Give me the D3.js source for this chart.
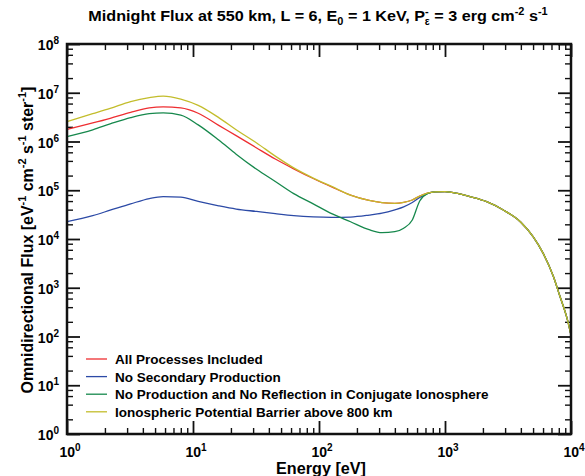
<!DOCTYPE html>
<html lang="en">
<head>
<meta charset="UTF-8">
<title>Midnight Flux at 550 km</title>
<script src="https://d3js.org/d3.v7.min.js"></script>
<style>
    body { margin: 0; background: #fff; }
    svg { font-family: "Liberation Sans", Arial, sans-serif; font-weight: bold; }
</style>
</head>
<body>
<div id="chart"></div>
<script>
// energies [eV] shared by all curves
const energy = [1, 1.6, 2.2, 3.2, 4.5, 5.8, 8, 11, 16, 22, 32, 45, 63, 90, 126, 178, 250, 316, 400, 470,
    550, 630, 725, 830, 1000, 1260, 1580, 2140, 2880, 3980, 5000, 6000, 7250, 8130, 9330, 10000];

// omnidirectional flux [eV-1 cm-2 s-1 ster-1]
const fluxAll = [1.78e6, 2.40e6, 2.99e6, 3.98e6, 4.90e6, 5.13e6, 4.90e6, 3.80e6, 2.14e6, 1.32e6, 7.36e5, 4.37e5, 2.75e5, 1.74e5, 1.17e5, 7.94e4, 6.17e4, 5.56e4, 5.37e4, 5.62e4,
    6.31e4, 7.59e4, 8.71e4, 9.23e4, 9.33e4, 8.6e4, 7.38e4, 5.82e4, 3.98e4, 2.24e4, 1.12e4, 5.13e3, 1.70e3, 6.92e2, 2.29e2, 1.07e2];
const fluxNoSecondary = [2.26e4, 3.02e4, 3.89e4, 5.25e4, 6.76e4, 7.41e4, 7.24e4, 5.89e4, 4.79e4, 4.12e4, 3.67e4, 3.31e4, 3.02e4, 2.85e4, 2.79e4, 2.82e4, 3.09e4, 3.39e4, 3.98e4, 4.57e4,
    5.62e4, 7.08e4, 8.51e4, 9.23e4, 9.33e4, 8.6e4, 7.38e4, 5.82e4, 3.98e4, 2.24e4, 1.12e4, 5.13e3, 1.70e3, 6.92e2, 2.29e2, 1.07e2];
const fluxNoReflection = [1.26e6, 1.74e6, 2.29e6, 3.09e6, 3.72e6, 3.85e6, 3.47e6, 2.19e6, 1.07e6, 5.50e5, 2.69e5, 1.51e5, 8.51e4, 5.25e4, 3.31e4, 2.26e4, 1.55e4, 1.35e4, 1.41e4, 1.66e4,
    2.45e4, 6.03e4, 8.51e4, 9.23e4, 9.33e4, 8.6e4, 7.38e4, 5.82e4, 3.98e4, 2.24e4, 1.12e4, 5.13e3, 1.70e3, 6.92e2, 2.29e2, 1.07e2];
const fluxBarrier = [2.57e6, 3.72e6, 4.79e6, 6.61e6, 7.94e6, 8.51e6, 7.41e6, 5.50e6, 3.09e6, 1.74e6, 9.33e5, 5.01e5, 2.88e5, 1.78e5, 1.20e5, 7.94e4, 6.17e4, 5.56e4, 5.37e4, 5.62e4,
    6.31e4, 7.59e4, 8.71e4, 9.23e4, 9.33e4, 8.6e4, 7.38e4, 5.82e4, 3.98e4, 2.24e4, 1.12e4, 5.13e3, 1.70e3, 6.92e2, 2.29e2, 1.07e2];

const seriesNames = [
    "All Processes Included",
    "No Secondary Production",
    "No Production and No Reflection in Conjugate Ionosphere",
    "Ionospheric Potential Barrier above 800 km"
];
const seriesColors = ["#ee2e31", "#2c4aa6", "#16884c", "#c3bd2c"];
const seriesFlux = [fluxAll, fluxNoSecondary, fluxNoReflection, fluxBarrier];

const xMajor = [1, 10, 100, 1000, 10000];
const yMajor = [1, 10, 100, 1e3, 1e4, 1e5, 1e6, 1e7, 1e8];

const width = 585, height = 476;
const margin = { left: 67, right: 14, top: 44, bottom: 42 };

const svg = d3.select("#chart").append("svg")
    .attr("width", width)
    .attr("height", height);

const x = d3.scaleLog().domain([1, 1e4]).range([margin.left, width - margin.right]);
const y = d3.scaleLog().domain([1, 1e8]).range([height - margin.bottom, margin.top]);

// minor tick values
const xMinor = [];
for (let d = 1; d < 1e4; d *= 10) for (let k = 2; k <= 9; k++) xMinor.push(d * k);
const yMinor = [];
for (let d = 1; d < 1e8; d *= 10) for (const k of [2, 4, 6, 8]) yMinor.push(d * k);

const x0 = x.range()[0], x1 = x.range()[1];
const y0 = y.range()[0], y1 = y.range()[1];

function drawTicks(axisFn, scale, values, size, offset, w) {
    svg.append("g")
        .attr("transform", offset)
        .call(axisFn(scale).tickValues(values).tickSize(size).tickFormat(""))
        .call(g => g.select(".domain").remove())
        .call(g => g.selectAll("line").attr("stroke", "#111").attr("stroke-width", w));
}

// inward ticks on all four sides
drawTicks(d3.axisBottom, x, xMinor, -6, `translate(0,${y0})`, 1.4);
drawTicks(d3.axisBottom, x, xMajor, -13, `translate(0,${y0})`, 1.8);
drawTicks(d3.axisTop, x, xMinor, -6, `translate(0,${y1})`, 1.4);
drawTicks(d3.axisTop, x, xMajor, -13, `translate(0,${y1})`, 1.8);
drawTicks(d3.axisLeft, y, yMinor, -6, `translate(${x0},0)`, 1.4);
drawTicks(d3.axisLeft, y, yMajor, -13, `translate(${x0},0)`, 1.8);
drawTicks(d3.axisRight, y, yMinor, -6, `translate(${x1},0)`, 1.4);
drawTicks(d3.axisRight, y, yMajor, -13, `translate(${x1},0)`, 1.8);

// curves
const line = d3.line()
    .x(d => x(d[0]))
    .y(d => y(d[1]))
    .curve(d3.curveMonotoneX);

seriesFlux.forEach((flux, i) => {
    svg.append("path")
        .datum(energy.map((e, j) => [e, flux[j]]))
        .attr("fill", "none")
        .attr("stroke", seriesColors[i])
        .attr("stroke-width", 1.3)
        .attr("d", line);
});

// frame
svg.append("rect")
    .attr("x", x0).attr("y", y1)
    .attr("width", x1 - x0).attr("height", y0 - y1)
    .attr("fill", "none")
    .attr("stroke", "#111")
    .attr("stroke-width", 2.5);

// squeeze a text horizontally so it spans the given width
function fitWidth(sel, target) {
    const w = sel.node().getBBox().width;
    const t = sel.attr("transform") || "";
    sel.attr("transform", `${t} scale(${target / w},1)`);
}

// tick labels, 10 with exponent
function powerLabel(sel, v) {
    sel.append("tspan").text("10");
    sel.append("tspan").attr("dy", -6).attr("font-size", 10).text(Math.round(Math.log10(v)));
}

xMajor.forEach(v => {
    svg.append("text")
        .attr("x", x(v) + 3).attr("y", y0 + 23)
        .attr("text-anchor", "middle")
        .attr("font-size", 14)
        .call(powerLabel, v);
});

yMajor.forEach(v => {
    svg.append("text")
        .attr("x", x0 - 8).attr("y", y(v) + 6)
        .attr("text-anchor", "end")
        .attr("font-size", 14)
        .call(powerLabel, v);
});

// axis titles
svg.append("text")
    .attr("transform", `translate(${(x0 + x1) / 2 + 2},474)`)
    .attr("text-anchor", "middle")
    .attr("font-size", 16)
    .text("Energy [eV]")
    .call(fitWidth, 90);

// text built from [plain, superscript] pieces
function withSuperscripts(sel, parts, shift, supSize) {
    let raised = false;
    parts.forEach(([t, s]) => {
        sel.append("tspan").attr("dy", raised ? shift : 0).text(t);
        raised = false;
        if (s) {
            sel.append("tspan").attr("dy", -shift).attr("font-size", supSize).text(s);
            raised = true;
        }
    });
}

const yTitle = svg.append("text")
    .attr("transform", `translate(33,240) rotate(-90)`)
    .attr("text-anchor", "middle")
    .attr("font-size", 16);
withSuperscripts(yTitle, [["Omnidirectional Flux [eV", "-1"], [" cm", "-2"], [" s", "-1"], [" ster", "-1"], ["]", null]], 7, 11);
yTitle.call(fitWidth, 307);

// title
const title = svg.append("text")
    .attr("transform", "translate(318,21)")
    .attr("text-anchor", "middle")
    .attr("font-size", 15.5);
title.append("tspan").text("Midnight Flux at 550 km, L = 6, E");
title.append("tspan").attr("dy", 4).attr("font-size", 10.5).text("0");
title.append("tspan").attr("dy", -4).text(" = 1 KeV, P");
title.append("tspan").attr("dy", -6).attr("font-size", 10.5).text("-");
title.append("tspan").attr("dx", -3.8).attr("dy", 10).attr("font-size", 10).text("ε");
title.append("tspan").attr("dy", -4).text(" = 3 erg cm");
title.append("tspan").attr("dy", -6).attr("font-size", 10.5).text("-2");
title.append("tspan").attr("dy", 6).text(" s");
title.append("tspan").attr("dy", -6).attr("font-size", 10.5).text("-1");
title.call(fitWidth, 460);

// legend
const legend = svg.append("g").attr("transform", "translate(86,359)");
seriesNames.forEach((name, i) => {
    const row = legend.append("g").attr("transform", `translate(0,${i * 17.6})`);
    row.append("line")
        .attr("x1", 0).attr("x2", 21)
        .attr("stroke", seriesColors[i])
        .attr("stroke-width", 1.3);
    row.append("text")
        .attr("transform", "translate(29,5)")
        .attr("font-size", 13.5)
        .text(name);
});
</script>
</body>
</html>
